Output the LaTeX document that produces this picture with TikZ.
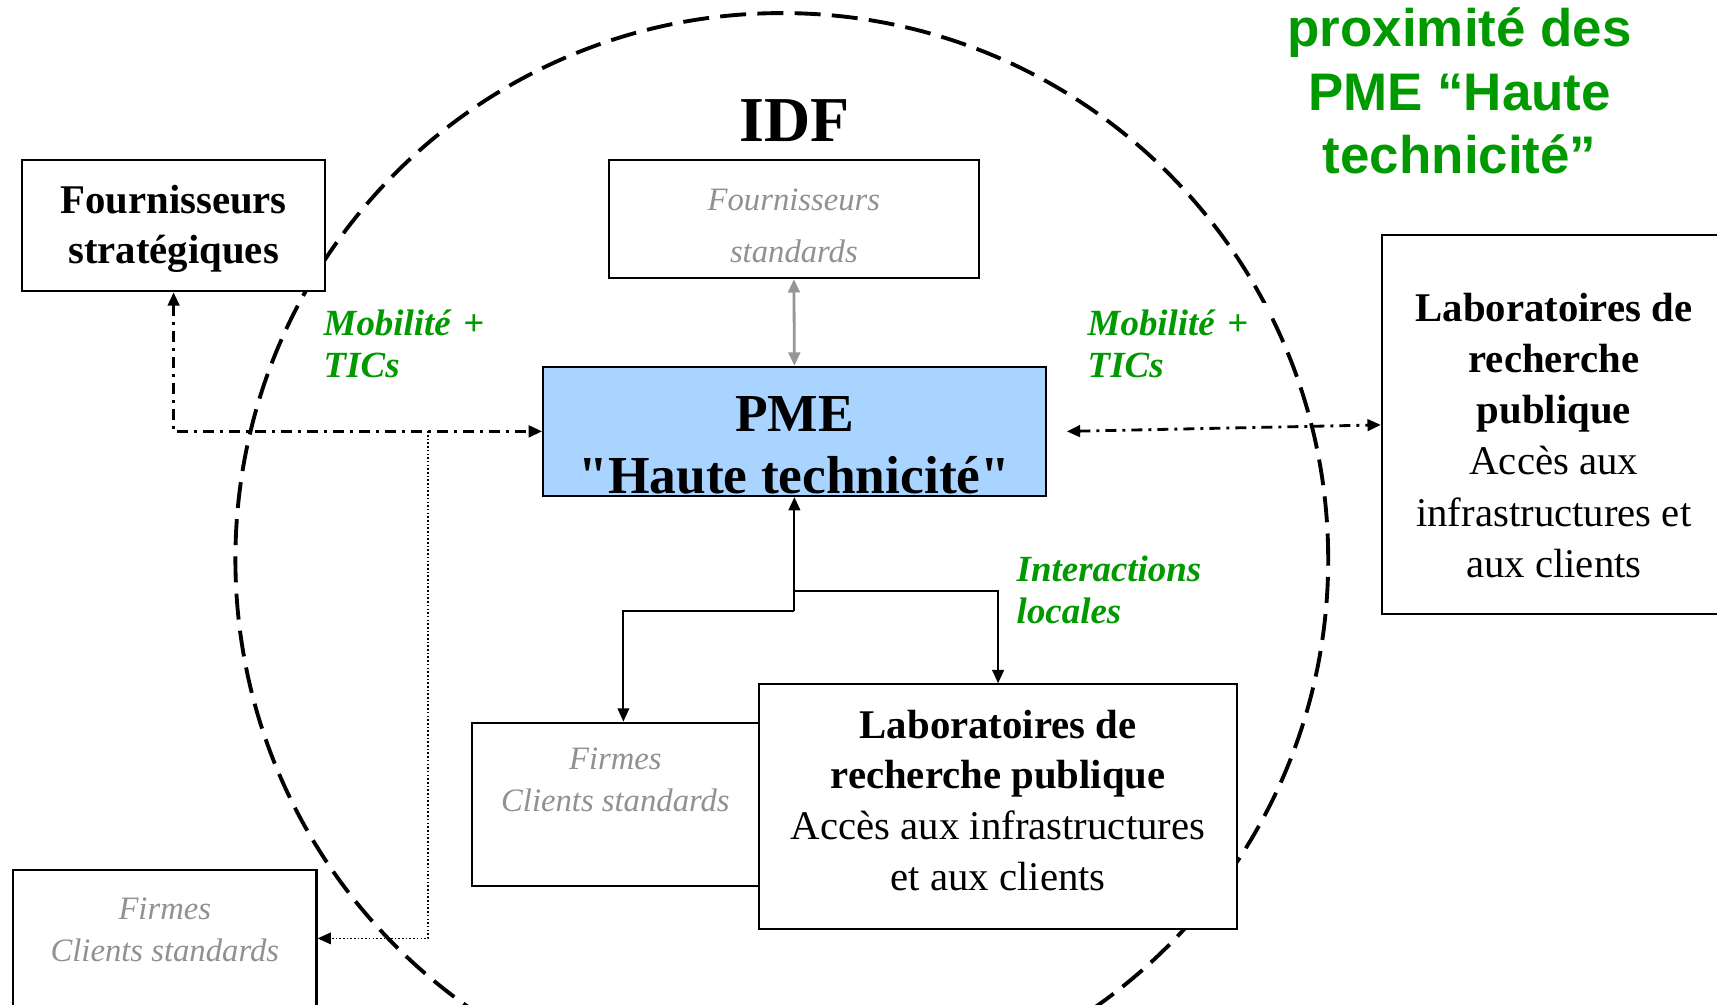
\documentclass[tikz,border=0pt]{standalone}
\usepackage{fontspec}
\setmainfont{Liberation Serif}
\newfontfamily\titrefont{Liberation Sans}
\newfontfamily\pmefont{Liberation Serif}
\usepackage{tikz}
\usetikzlibrary{positioning,arrows.meta}

\definecolor{vert}{RGB}{0,153,0}
\definecolor{bleupme}{RGB}{168,212,255}
\definecolor{textegris}{RGB}{145,145,145}
\definecolor{flechegris}{RGB}{150,150,150}

% invisible strut: height #1, depth #2
\newcommand{\calage}[2]{\rule[-#2]{0pt}{\dimexpr #1+#2\relax}}

\tikzset{
	bloc/.style={draw, fill=white, line width=0.6pt, align=center, inner sep=2pt,
		font=\fontsize{11.6}{14.4}\selectfont},
	blocgris/.style={bloc, text=textegris, font=\fontsize{9.3}{11.8}\selectfont\itshape},
	etiquette/.style={fill=white, text=vert, align=left, text width=1.9cm, inner sep=2pt,
		font=\fontsize{10.5}{11.84}\selectfont\bfseries\itshape},
	mobilite/.style={line width=0.8pt, dash pattern=on 3.1pt off 1.7pt on 0.9pt off 1.7pt},
	pointille/.style={line width=0.45pt, dash pattern=on 0.45pt off 0.6pt},
	locale/.style={line width=0.6pt},
	standard/.style={line width=0.8pt, draw=flechegris},
	zone/.style={line width=1.1pt, dash pattern=on 7.4pt off 3.2pt},
}

\begin{document}
\begin{tikzpicture}[>={Triangle[length=3.8pt,width=3.3pt]}]
		
		\useasboundingbox (0,0) rectangle (17.17,10.05);
		
		% IDF area
		\draw[zone] (7.818,4.455) circle (5.464);
		
		% Title
		\node [text=vert,
		align=center,
		font=\titrefont\bfseries\fontsize{15.05}{18.07}\selectfont
		]  (titre) at (14.596,9.141) {proximité des\\PME “Haute\\technicité”};
		
		\node [font=\fontsize{18.2}{20}\selectfont\bfseries] (idf) at (7.95,8.845) {IDF};
		
		% Strategic suppliers
		\node [bloc,
		minimum width=3.033cm,
		minimum height=1.314cm
		]  (fs) at (1.736,7.794) {\calage{10pt}{0pt}\textbf{Fournisseurs}\\\textbf{stratégiques}};
		
		% Standard suppliers
		\node [blocgris,
		font=\fontsize{9.3}{14.6}\selectfont\itshape,
		minimum width=3.70cm,
		minimum height=1.182cm
		]  (fstd) at (7.939,7.86) {\calage{10pt}{0pt}Fournisseurs\\standards};
		
		% PME block
		\node [bloc,
		fill=bleupme,
		inner ysep=0pt,
		font=\pmefont\fontsize{15.2}{17.75}\selectfont\bfseries,
		minimum width=5.026cm,
		minimum height=1.292cm
		]  (pme) at (7.944,5.736) {\calage{18pt}{0pt}PME\\"Haute technicité"};
		
		% Research labs, outside IDF
		\node [bloc,
		font=\fontsize{11.6}{14.6}\selectfont,
		minimum width=3.438cm,
		minimum height=3.789cm
		]  (labr) at (15.538,5.801) {\calage{14pt}{0pt}\textbf{Laboratoires de}\\\textbf{recherche}\\\textbf{publique}\\Accès aux\\infrastructures et\\aux clients};
		
		% Standard clients, inside IDF
		\node [blocgris,
		minimum width=2.869cm,
		minimum height=1.632cm
		]  (firmm) at (6.154,2.007) {Firmes\\Clients standards\calage{0pt}{14pt}};
		
		% Research labs, inside IDF
		\node [bloc,
		minimum width=4.786cm,
		minimum height=2.442cm
		]  (labm) at (9.981,1.985) {\textbf{Laboratoires de}\\\textbf{recherche publique}\\Accès aux infrastructures\\et aux clients\calage{0pt}{3.7pt}};
		
		% Standard clients, outside IDF
		\node [blocgris,
		minimum width=3.034cm,
		minimum height=1.36cm
		]  (firml) at (1.648,0.666) {Firmes\\Clients standards\calage{0pt}{5pt}};
		
		% Green labels
		\node [etiquette, anchor=west] (mobg) at (3.16,6.612) {Mobilité +\\TICs};
		\node [etiquette, text width=1.76cm, anchor=west] (mobd) at (10.80,6.612) {Mobilité +\\TICs};
		\node [etiquette, anchor=west] (inter) at (10.09,4.148) {Interactions\\locales};
		
		% Junctions
		\coordinate [left=1.14cm of pme.west] (fourche);
		\coordinate [below=1.14cm of pme.south] (noeudg);
		\coordinate [below=0.942cm of pme.south] (noeudd);
		
		\draw[mobilite, <->] (fs.south) |- (pme.west);
		
		\draw[pointille, ->] (fourche) |- (firml.east);
		
		\draw[mobilite, <->] ([xshift=0.2cm]pme.east) -- (labr.west);
		
		\draw[standard, <->] (fstd.south) -- (pme.north);
		
		\draw[locale, ->] (noeudg) -- (pme.south);
		
		\draw[locale, ->] (noeudg) -| ([xshift=0.08cm]firmm.north);
		
		\draw[locale, ->] (noeudd) -| (labm.north);
		
\end{tikzpicture}
\end{document}
